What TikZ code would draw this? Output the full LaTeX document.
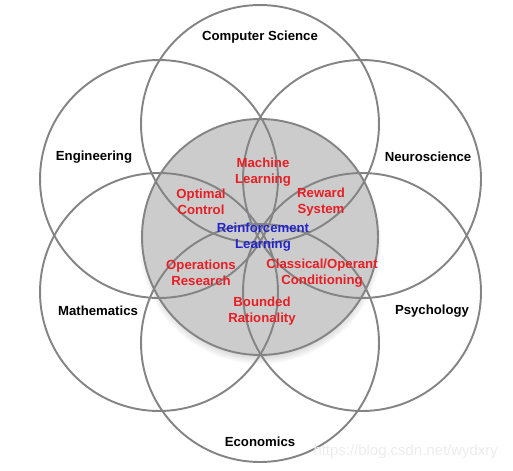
\documentclass[tikz,border=0pt]{standalone}
\usepackage{fontspec}
\setmainfont{Liberation Sans}
\usetikzlibrary{shadows}
\definecolor{RingGray}{RGB}{132,132,132}
\definecolor{DiskGray}{RGB}{204,204,204}
\definecolor{FieldRed}{RGB}{232,30,36}
\definecolor{CoreBlue}{RGB}{36,36,204}
\definecolor{MarkGray}{RGB}{236,236,236}

\begin{document}
\begin{tikzpicture}[x=0.02cm, y=-0.02cm]
  \tikzset{ring/.style={circle, draw=RingGray, line width=1.1pt, inner sep=0pt, minimum size=4.76cm},
    field/.style={font=\fontsize{7.5}{9}\selectfont\bfseries, align=center, inner sep=1pt},
    sub/.style={field, text=FieldRed}}
  \useasboundingbox (0,0) rectangle (513,470);
  \node[ring, fill=DiskGray, minimum size=4.72cm,
    circular drop shadow={shadow xshift=0pt, shadow yshift=-3pt, shadow scale=1.03, opacity=.6}] (core) at (260,237) {};
  \node[ring] (cs) at (260,124) {};
  \node[ring] (eng) at (159,179) {};
  \node[ring] (neuro) at (362,179) {};
  \node[ring] (math) at (159,292) {};
  \node[ring] (psy) at (362,292) {};
  \node[ring] (eco) at (260,343) {};
  \node[field] (csl) at (260,37) {Computer Science};
  \node[field] (engl) at (94,157) {Engineering};
  \node[field] (neurol) at (428,157) {Neuroscience};
  \node[field] (mathl) at (98,311) {Mathematics};
  \node[field] (psyl) at (432,311) {Psychology};
  \node[field] (ecol) at (260,442) {Economics};
  \node[sub] (ml) at (263,172) {Machine\\Learning};
  \node[sub] (oc) at (201,202) {Optimal\\Control};
  \node[sub] (rs) at (321,202) {Reward\\System};
  \node[field, text=CoreBlue] (rl) at (263,237) {Reinforcement\\Learning};
  \node[sub] (or) at (201,273) {Operations\\Research};
  \node[sub] (cc) at (322,273) {Classical/Operant\\Conditioning};
  \node[sub] (br) at (262,311) {Bounded\\Rationality};
  \node[text=MarkGray, font=\fontsize{8.5}{10}\selectfont, anchor=east] (mark) at (504,452) {https://blog.csdn.net/wydxry};
\end{tikzpicture}
\end{document}
